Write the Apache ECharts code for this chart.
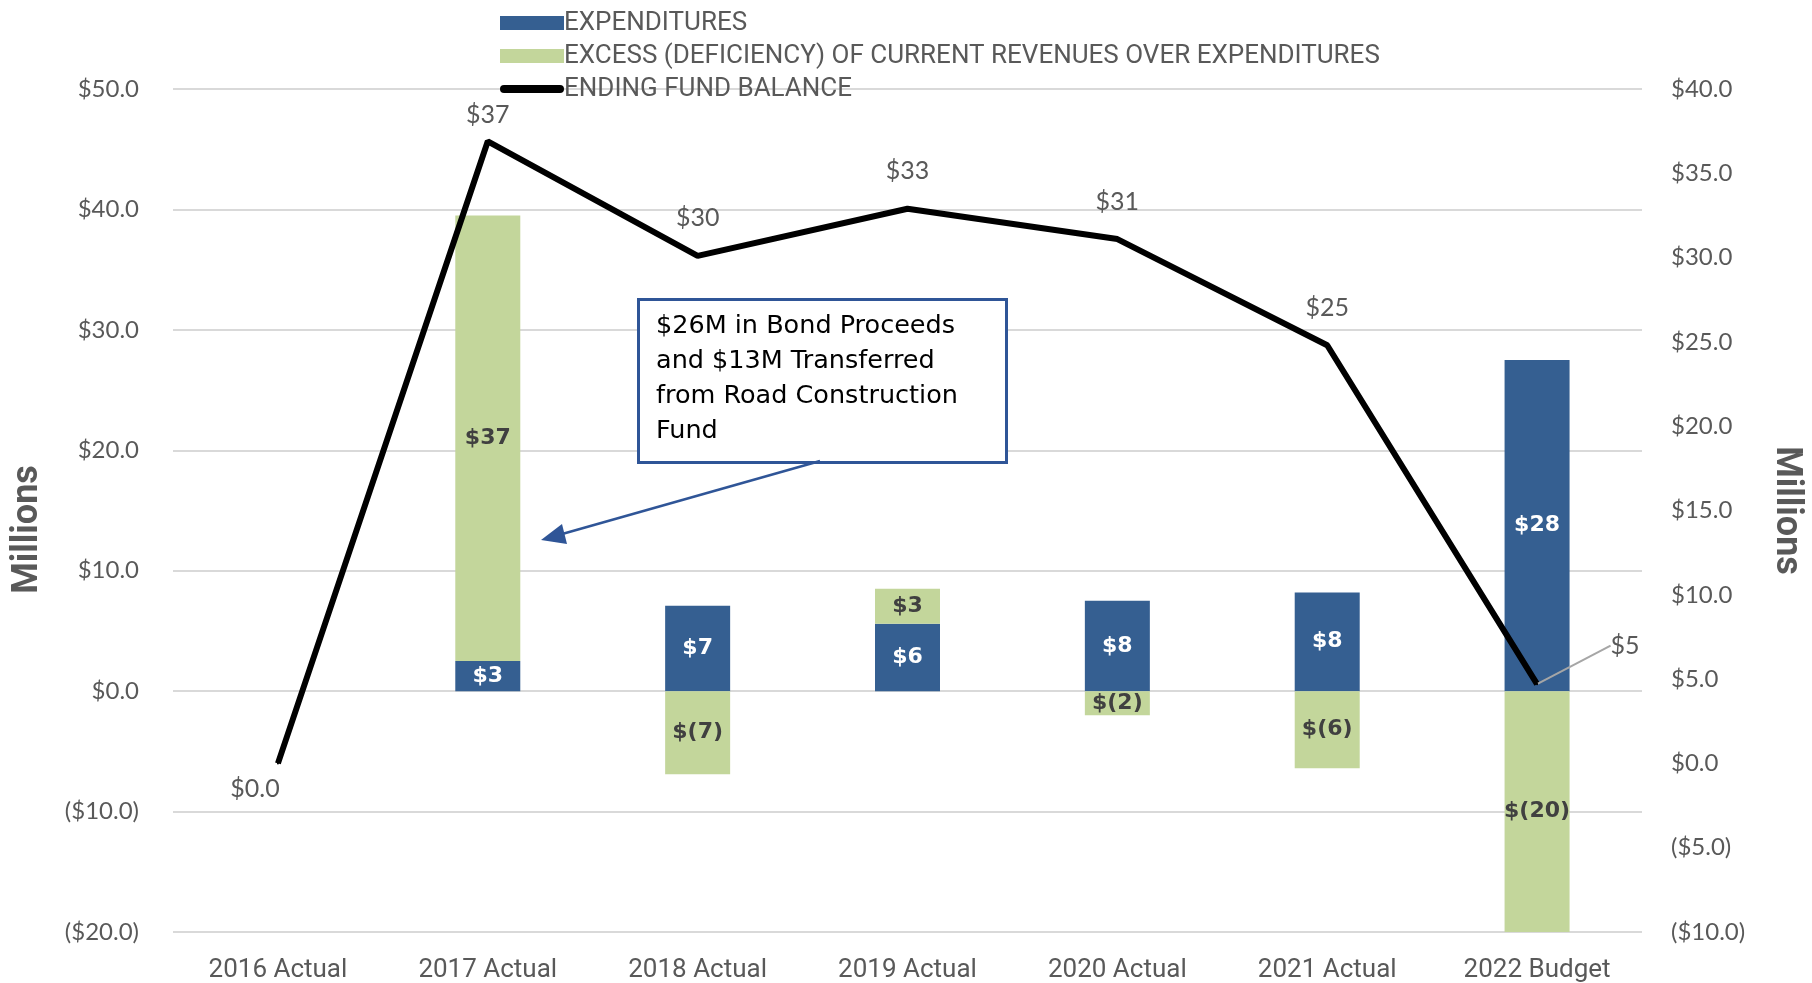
<!DOCTYPE html>
<html>
<head>
<meta charset="utf-8">
<script src="https://cdn.jsdelivr.net/npm/echarts@6/dist/echarts.min.js"></script>
<style>
  html, body { margin: 0; padding: 0; background: #fff; }
  #chart { width: 1812px; height: 983px; }
</style>
</head>
<body>
<div id="chart"></div>
<script>
// chart values (millions)
const years = ["2016 Actual", "2017 Actual", "2018 Actual", "2019 Actual", "2020 Actual", "2021 Actual", "2022 Budget"];
const expenditures = [null, 2.5, 7.1, 5.6, 7.5, 8.2, 27.5];
const excess = [null, 37.0, -6.9, 2.9, -2.0, -6.4, -20.0];
const endingBalance = [0, 36.9, 30.1, 32.9, 31.1, 24.8, 4.7];
const balanceLabels = ["$0.0", "$37", "$30", "$33", "$31", "$25", "$5"];
const leftTicks = { min: -20, max: 50, interval: 10 };
const rightTicks = { min: -10, max: 40, interval: 5 };

const BLUE = "#355F91";
const GREEN = "#C3D69B";
const GREY = "#595959";

const money = (v) => {
  const s = Math.abs(v).toFixed(1);
  return v < 0 ? "($" + s + ")" : "$" + s;
};
const barLabel = (p) => {
  if (p.value == null) return "";
  const r = Math.round(Math.abs(p.value));
  return p.value < 0 ? "$(" + r + ")" : "$" + r;
};

// only the last point gets a leader line
const balanceData = endingBalance.map((v, i) =>
  i === endingBalance.length - 1 ? { value: v, labelLine: { show: true } } : v
);

const chart = echarts.init(document.getElementById("chart"));

const option = {
  animation: false,
  grid: { left: 173, right: 169, top: 89, bottom: 48 },
  legend: {
    orient: "vertical",
    left: 495,
    top: 5,
    itemWidth: 64,
    itemHeight: 14,
    itemGap: 7,
    textStyle: { fontFamily: "Roboto", fontSize: 26, color: GREY, padding: [0, 0, 0, -5] },
    data: [
      { name: "EXPENDITURES", icon: "rect" },
      { name: "EXCESS (DEFICIENCY) OF CURRENT REVENUES OVER EXPENDITURES", icon: "rect" },
      { name: "ENDING FUND BALANCE", icon: "path://M4,0 L60,0 A4,4 0 0 1 60,8 L4,8 A4,4 0 0 1 4,0 Z" }
    ]
  },
  xAxis: {
    type: "category",
    data: years,
    axisLine: { show: false },
    axisTick: { show: false },
    axisLabel: { fontFamily: "Roboto", fontSize: 26, color: GREY, margin: 25 }
  },
  yAxis: [
    {
      type: "value",
      min: leftTicks.min,
      max: leftTicks.max,
      interval: leftTicks.interval,
      name: "Millions",
      nameLocation: "middle",
      nameGap: 127,
      nameRotate: 90,
      nameTextStyle: { fontFamily: "Roboto", fontWeight: "bold", fontSize: 36, color: GREY, padding: [0, 0, 0, -38] },
      axisLine: { show: false },
      axisTick: { show: false },
      axisLabel: { fontFamily: "Lato", fontSize: 24, color: GREY, margin: 34, formatter: money },
      splitLine: { lineStyle: { color: "#D9D9D9", width: 2 } }
    },
    {
      type: "value",
      min: rightTicks.min,
      max: rightTicks.max,
      interval: rightTicks.interval,
      alignTicks: false,
      name: "Millions",
      nameLocation: "middle",
      nameGap: 126,
      nameRotate: -90,
      nameTextStyle: { fontFamily: "Roboto", fontWeight: "bold", fontSize: 36, color: GREY },
      axisLine: { show: false },
      axisTick: { show: false },
      axisLabel: { fontFamily: "Lato", fontSize: 24, color: GREY, margin: 29, formatter: money },
      splitLine: { show: false }
    }
  ],
  series: [
    {
      name: "EXPENDITURES",
      type: "bar",
      stack: "fund",
      barWidth: 65,
      itemStyle: { color: BLUE },
      label: {
        show: true,
        position: "inside",
        formatter: barLabel,
        fontFamily: "DejaVu Sans",
        fontWeight: "bold",
        fontSize: 22,
        color: "#fff"
      },
      data: expenditures
    },
    {
      name: "EXCESS (DEFICIENCY) OF CURRENT REVENUES OVER EXPENDITURES",
      type: "bar",
      stack: "fund",
      barWidth: 65,
      itemStyle: { color: GREEN },
      label: {
        show: true,
        position: "inside",
        formatter: barLabel,
        fontFamily: "DejaVu Sans",
        fontWeight: "bold",
        fontSize: 22,
        color: "#404040"
      },
      data: excess
    },
    {
      name: "ENDING FUND BALANCE",
      type: "line",
      yAxisIndex: 1,
      symbol: "circle",
      symbolSize: 2,
      showSymbol: true,
      lineStyle: { color: "#000", width: 6 },
      itemStyle: { color: "#000" },
      z: 5,
      label: {
        show: true,
        position: "top",
        distance: 24,
        fontFamily: "Lato",
        fontSize: 25,
        color: GREY,
        formatter: (p) => balanceLabels[p.dataIndex]
      },
      labelLine: { show: false, lineStyle: { color: "#A6A6A6", width: 2 } },
      labelLayout: (p) => {
        if (p.dataIndex === 0) return { dx: -23, dy: 63 };
        if (p.dataIndex === 1) return { dy: 11 };
        if (p.dataIndex === 6) return { dx: 88, dy: -1 };
        return {};
      },
      data: balanceData
    }
  ],
  graphic: [
    {
      type: "rect",
      left: 637,
      top: 298,
      shape: { width: 368, height: 163 },
      style: { fill: "#fff", stroke: "#2F5597", lineWidth: 3 },
      z: 10
    },
    {
      type: "text",
      left: 656,
      top: 309,
      style: {
        text: "$26M in Bond Proceeds\nand $13M Transferred\nfrom Road Construction\nFund",
        fontFamily: "DejaVu Sans",
        fontSize: 25.5,
        lineHeight: 35,
        fill: "#000"
      },
      z: 11
    },
    {
      type: "line",
      shape: { x1: 820, y1: 461, x2: 548, y2: 538 },
      style: { stroke: "#2F5597", lineWidth: 2.5 },
      z: 10
    },
    {
      type: "polygon",
      shape: { points: [[541, 540], [562, 524], [567, 544]] },
      style: { fill: "#2F5597" },
      z: 10
    }
  ]
};

chart.setOption(option);
</script>
</body>
</html>
